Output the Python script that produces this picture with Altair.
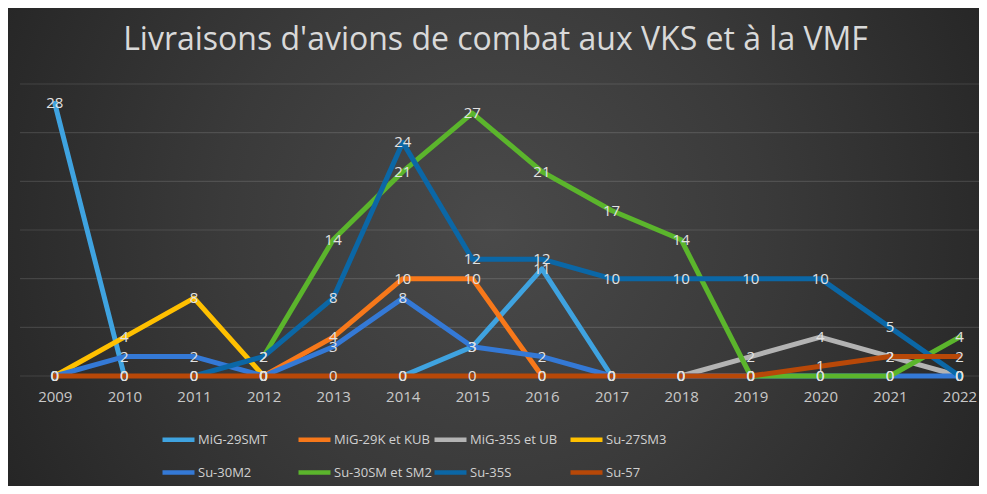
import altair as alt
import pandas as pd

years = list(range(2009, 2023))
series_names = ["MiG-29SMT", "MiG-29K et KUB", "MiG-35S et UB", "Su-27SM3",
                "Su-30M2", "Su-30SM et SM2", "Su-35S", "Su-57"]
N = None
mig29smt = [28, 0, N, N, N, 0, 3, 11, 0, N, N, N, N, N]
mig29k = [N, N, N, 0, 4, 10, 10, 0, N, N, N, N, N, N]
mig35s = [N, N, N, N, N, N, N, N, N, 0, 2, 4, 2, 0]
su27sm3 = [0, 4, 8, 0, N, N, N, N, N, N, N, N, N, N]
su30m2 = [0, 2, 2, 0, 3, 8, 3, 2, 0, 0, 0, 0, 0, 0]
su30sm = [N, N, N, 2, 14, 21, 27, 21, 17, 14, 0, 0, 0, 4]
su35s = [N, N, 0, 2, 8, 24, 12, 12, 10, 10, 10, 10, 5, 0]
su57 = [0, 0, 0, 0, 0, 0, 0, 0, 0, 0, 0, 1, 2, 2]
colors = ["#3fa3e0", "#f7781a", "#b3b3b3", "#ffc000",
          "#3479d6", "#5bb52c", "#0b67a6", "#b84808"]
grid_values = [0, 5, 10, 15, 20, 25, 30]
title_text = "Livraisons d'avions de combat aux VKS et à la VMF"

all_series = [mig29smt, mig29k, mig35s, su27sm3, su30m2, su30sm, su35s, su57]
rows = []
for i, (name, vals) in enumerate(zip(series_names, all_series)):
    seg = 0
    prev_none = False
    for y, v in zip(years, vals):
        if v is None:
            prev_none = True
            continue
        if prev_none:
            seg += 1
            prev_none = False
        rows.append({"annee": y, "valeur": int(v), "serie": name,
                     "seg": f"{name}-{seg}", "ordre": i})
df = pd.DataFrame(rows)
grid_df = pd.DataFrame({"g": grid_values})

W, H = 959, 292

bg = alt.Chart(pd.DataFrame({"a": [0]})).mark_rect(
    fill=alt.RadialGradient(
        gradient="radial",
        stops=[alt.GradientStop(color="#4a4a4a", offset=0),
               alt.GradientStop(color="#3a3a3a", offset=0.45),
               alt.GradientStop(color="#222222", offset=1)],
        x1=0.5, y1=0.48, r1=0, x2=0.5, y2=0.48, r2=0.62,
    )
).encode(x=alt.value(-12), x2=alt.value(W), y=alt.value(-76), y2=alt.value(H + 110))

xscale = alt.Scale(domain=[2008.5, 2022.28], nice=False, zero=False)
yscale = alt.Scale(domain=[0, 30], nice=False, zero=True)

grid = alt.Chart(grid_df).mark_rule(color="#ffffff", opacity=0.12, strokeWidth=1.2).encode(
    y=alt.Y("g:Q", scale=yscale, axis=None)
)

lines = alt.Chart(df).mark_line(strokeWidth=5, strokeJoin="round", strokeCap="round").encode(
    x=alt.X("annee:Q", scale=xscale, title=None,
            axis=alt.Axis(values=years, format="d", labelFont="Open Sans", labelFontSize=15,
                          labelColor="#c8c8c8", ticks=False, domain=False, grid=False,
                          labelPadding=13, zindex=1)),
    y=alt.Y("valeur:Q", scale=yscale, axis=None),
    color=alt.Color("serie:N", scale=alt.Scale(domain=series_names, range=colors),
                    legend=alt.Legend(orient="none", legendX=140, legendY=337, columns=4,
                                      direction="horizontal", title=None, symbolType="stroke",
                                      symbolSize=1024, symbolStrokeWidth=4.5,
                                      labelFont="Open Sans", labelFontSize=13,
                                      labelColor="#d0d0d0", labelOffset=1, columnPadding=-14,
                                      rowPadding=5, gridAlign="all", padding=0, zindex=1)),
    detail="seg:N",
    order=alt.Order("annee:Q"),
)

labels = alt.Chart(df).mark_text(font="Open Sans", fontSize=15, color="#e2e2e2",
                                 align="center", baseline="middle").encode(
    x=alt.X("annee:Q", scale=xscale),
    y=alt.Y("valeur:Q", scale=yscale),
    text=alt.Text("valeur:Q", format="d"),
)

chart = alt.layer(bg, grid, lines, labels).properties(
    width=W, height=H,
    title=alt.TitleParams(text=title_text, font="Open Sans", fontSize=32, fontWeight="normal",
                          color="#d9d9d9", anchor="middle", frame="group",
                          baseline="alphabetic", offset=0, dy=74, dx=-4, zindex=1),
    autosize=alt.AutoSizeParams(type="none"),
    padding={"left": 12, "top": 76, "right": 0, "bottom": 110},
).configure(background="#2a2a2a").configure_view(stroke=None)

chart.save("out.html", embed_options={"renderer": "svg", "actions": False})
